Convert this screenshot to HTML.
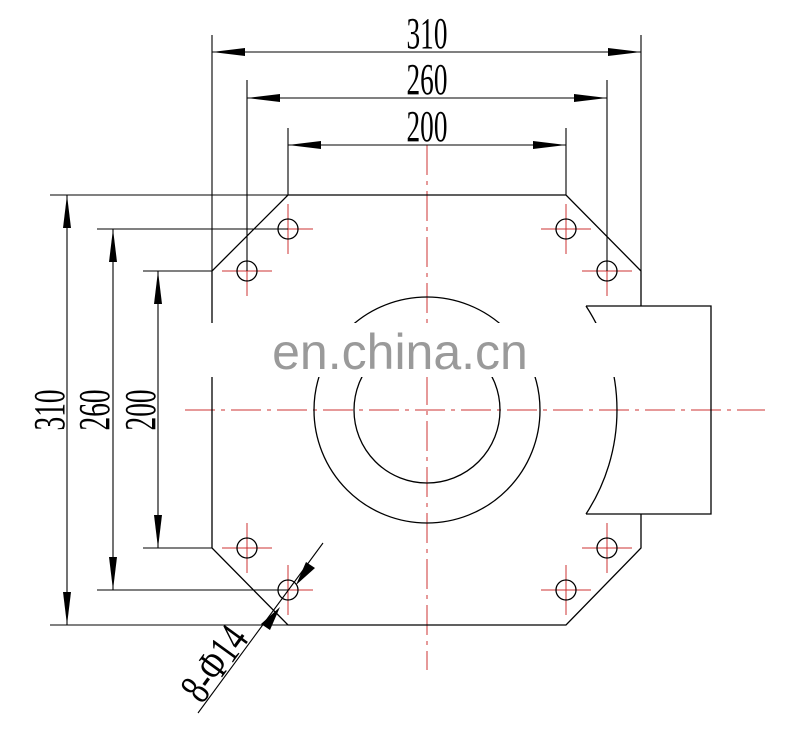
<!DOCTYPE html>
<html><head><meta charset="utf-8"><style>
html,body{margin:0;padding:0;background:#fff;}
svg{display:block}
text{font-family:"Liberation Serif",serif;font-size:44px;fill:#000}
</style></head><body>
<svg width="800" height="732" viewBox="0 0 800 732" xmlns="http://www.w3.org/2000/svg">
<defs>
<marker id="a" viewBox="0 0 33 8" refX="33" refY="4" markerWidth="33" markerHeight="8" markerUnits="userSpaceOnUse" orient="auto-start-reverse"><path d="M0,0 L33,4 L0,8 Z" fill="#000"/></marker>
</defs>
<g stroke="#c33" stroke-width="1" fill="none">
<line x1="185" y1="410" x2="765" y2="410" stroke-dasharray="30,6,4,6"/>
<line x1="427" y1="145" x2="427" y2="670" stroke-dasharray="30,6,4,6"/>
<path d="M263,229h50M288,204v50M222,271h50M247,246v50M541,229h50M566,204v50M582,271h50M607,246v50M222,548h50M247,523v50M263,590h50M288,565v50M541,590h50M566,565v50M582,548h50M607,523v50"/>
</g>
<g stroke="#000" stroke-width="1.3" fill="none">
<path d="M641,306 V271 L566,195 H288 L212,271 V548 L288,625 H566 L641,548 V514"/>
<path d="M586,306 H711 V514 H586"/>
<path d="M586,306 A190,190 0 0 1 586,514"/>
<circle cx="427" cy="410" r="113"/>
<circle cx="427" cy="410" r="73"/>
<circle cx="288" cy="229" r="10"/><circle cx="247" cy="271" r="10"/>
<circle cx="566" cy="229" r="10"/><circle cx="607" cy="271" r="10"/>
<circle cx="247" cy="548" r="10"/><circle cx="288" cy="590" r="10"/>
<circle cx="566" cy="590" r="10"/><circle cx="607" cy="548" r="10"/>
</g>
<rect x="200" y="323" width="435" height="54" fill="#fff"/>
<g stroke="#000" stroke-width="1.1" fill="none">
<line x1="212" y1="35" x2="212" y2="271"/><line x1="641" y1="35" x2="641" y2="271"/>
<line x1="247" y1="80" x2="247" y2="271"/><line x1="607" y1="80" x2="607" y2="271"/>
<line x1="288" y1="128" x2="288" y2="195"/><line x1="566" y1="128" x2="566" y2="195"/>
<line x1="212" y1="52" x2="641" y2="52" marker-start="url(#a)" marker-end="url(#a)"/>
<line x1="247" y1="98" x2="607" y2="98" marker-start="url(#a)" marker-end="url(#a)"/>
<line x1="288" y1="145" x2="566" y2="145" marker-start="url(#a)" marker-end="url(#a)"/>
<line x1="50" y1="195" x2="288" y2="195"/><line x1="50" y1="625" x2="288" y2="625"/>
<line x1="97" y1="229" x2="288" y2="229"/><line x1="97" y1="590" x2="288" y2="590"/>
<line x1="143" y1="271" x2="212" y2="271"/><line x1="143" y1="548" x2="212" y2="548"/>
<line x1="67" y1="195" x2="67" y2="625" marker-start="url(#a)" marker-end="url(#a)"/>
<line x1="113" y1="229" x2="113" y2="590" marker-start="url(#a)" marker-end="url(#a)"/>
<line x1="158" y1="271" x2="158" y2="548" marker-start="url(#a)" marker-end="url(#a)"/>
<line x1="198" y1="713" x2="323" y2="543"/>
</g>
<path d="M280,607 L270,630 L261,624 Z M296,585 L306,562 L315,568 Z" fill="#000"/>
<text x="427" y="48" text-anchor="middle" transform="translate(427 0) scale(0.62 1) translate(-427 0)">310</text>
<text x="427" y="94" text-anchor="middle" transform="translate(427 0) scale(0.62 1) translate(-427 0)">260</text>
<text x="427" y="141" text-anchor="middle" transform="translate(427 0) scale(0.62 1) translate(-427 0)">200</text>
<text text-anchor="middle" transform="translate(64 410) rotate(-90) scale(0.62 1)">310</text>
<text text-anchor="middle" transform="translate(109 410) rotate(-90) scale(0.62 1)">260</text>
<text text-anchor="middle" transform="translate(155 410) rotate(-90) scale(0.62 1)">200</text>
<text text-anchor="middle" transform="translate(226 672) rotate(-54) scale(0.72 1)">8-Φ14</text>
<text x="400" y="369" text-anchor="middle" style="font-family:'Liberation Sans',sans-serif;font-size:50px;fill:#9a9a9a">en.china.cn</text>
</svg>
</body></html>
